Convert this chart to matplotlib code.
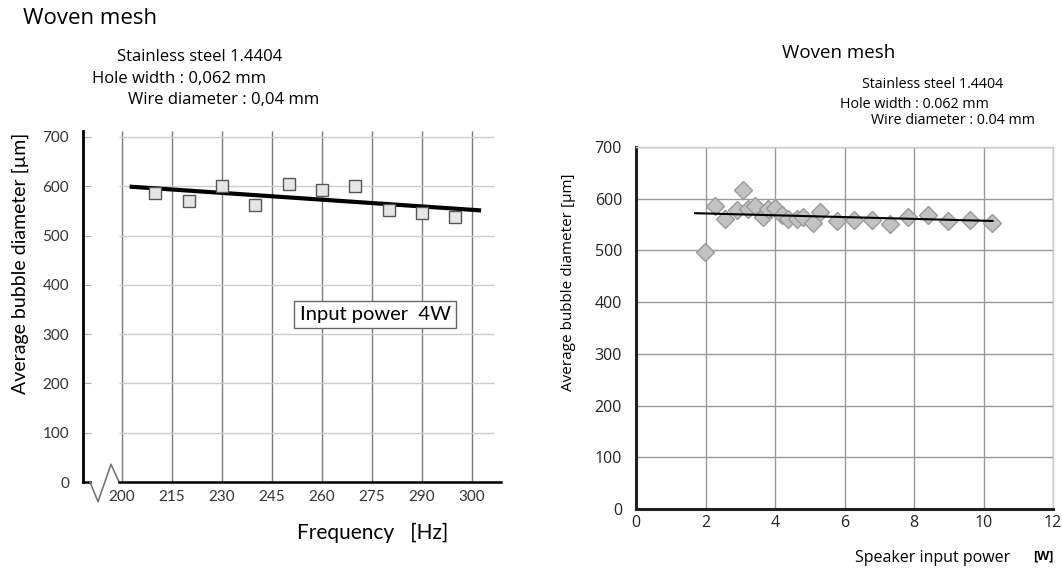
import numpy as np
import matplotlib
matplotlib.use("Agg")
import matplotlib.pyplot as plt

# left chart: frequency sweep at 4 W
freq_hz = [210, 220, 230, 240, 250, 260, 270, 280, 290, 300]
diam_freq = [587, 570, 600, 562, 604, 592, 600, 552, 546, 537]
freq_ticks = [200, 215, 230, 245, 260, 275, 290, 305]
freq_tick_labels = ['200', '215', '230', '245', '260', '275', '290', '300']
diam_ticks = [0, 100, 200, 300, 400, 500, 600, 700]

# right chart: speaker power sweep
power_w = [1.99, 2.27, 2.56, 2.90, 3.09, 3.23, 3.42, 3.65, 3.81, 4.00, 4.19, 4.38,
           4.62, 4.81, 5.08, 5.29, 5.77, 6.28, 6.78, 7.31, 7.84, 8.41, 8.99, 9.61, 10.25]
diam_power = [496, 586, 560, 578, 617, 580, 585, 564, 580, 583, 569, 560,
              560, 564, 554, 575, 556, 559, 558, 551, 565, 569, 556, 559, 554]
trend_power_x = [1.70, 10.26]
trend_power_y = [572, 557]
power_ticks = [0, 2, 4, 6, 8, 10, 12]

calib = 'Lato'
goth = 'Open Sans'

W, H = 1062, 570
fig = plt.figure(figsize=(W / 100, H / 100), dpi=100)


def px(x, y):
    return x / W, 1 - y / H


# ---------------- left chart ----------------
ax1 = fig.add_axes([83 / W, 1 - 482 / H, (501 - 83) / W, (482 - 131) / H])
ax1.set_xlim(188.3, 313.7)
ax1.set_ylim(0, 712)
for s in ['top', 'right', 'bottom']:
    ax1.spines[s].set_visible(False)
ax1.spines['left'].set_linewidth(2)
ax1.spines['left'].set_color('black')

ax1.set_xticks(freq_ticks)
ax1.set_xticklabels(freq_tick_labels, fontfamily=calib, fontsize=11, color='#333333')
ax1.set_yticks(diam_ticks)
ax1.set_yticklabels([str(v) for v in diam_ticks], fontfamily=calib, fontsize=11, color='#333333')
ax1.tick_params(axis='x', length=0, pad=6)
ax1.tick_params(axis='y', direction='in', length=6, color='#aaaaaa', pad=10)

ax1.vlines(freq_ticks, 0, 712, color='#7a7a7a', lw=1, zorder=1)
ax1.hlines(diam_ticks[1:], 199, 311.5, color='#cccccc', lw=1, zorder=1)

# broken x axis with zigzag
ax1.plot([188.3, 190.4], [0, 0], color='black', lw=1.8, clip_on=False, zorder=3)
ax1.plot([190.4, 192.8, 196.7, 199.1], [0, -40, 36, 0],
         color='#777777', lw=1.2, clip_on=False, zorder=3)
ax1.plot([199.1, 313.7], [0, 0], color='black', lw=1.8, clip_on=False, zorder=3)

coef = np.polyfit(freq_hz, diam_freq, 1)
fx = np.array([202.9, 307.1])
ax1.plot(fx, np.polyval(coef, fx), color='black', lw=3, zorder=4)
ax1.plot(freq_hz, diam_freq, 's', ms=8, mfc='#e6e6e6', mec='#555555', mew=1, zorder=5)

ax1.text(275.9, 339, 'Input power  4W', fontfamily=calib, fontsize=14.5, ha='center', va='center',
         bbox=dict(boxstyle='square,pad=0.25', fc='white', ec='#666666', lw=1), zorder=6)

fig.text(*px(20, 263), 'Average bubble diameter [µm]', rotation=90, ha='center', va='center',
         fontfamily=calib, fontsize=14)
fig.text(*px(297, 533), 'Frequency   [Hz]', ha='left', va='center', fontfamily=calib, fontsize=15)

fig.text(*px(23, 19), 'Woven mesh', ha='left', va='center', fontfamily=goth, fontsize=16)
fig.text(*px(117, 57), 'Stainless steel 1.4404', ha='left', va='center', fontfamily=goth, fontsize=12)
fig.text(*px(92, 79), 'Hole width : 0,062 mm', ha='left', va='center', fontfamily=goth, fontsize=12)
fig.text(*px(128, 100), 'Wire diameter : 0,04 mm', ha='left', va='center', fontfamily=goth, fontsize=12)

# ---------------- right chart ----------------
ax2 = fig.add_axes([636 / W, 1 - 509 / H, (1053 - 636) / W, (509 - 147) / H])
ax2.set_xlim(0, 12)
ax2.set_ylim(0, 700)
ax2.set_xticks(power_ticks)
ax2.set_xticklabels([str(v) for v in power_ticks], fontfamily=goth, fontsize=11.5, color='#222222')
ax2.set_yticks(diam_ticks)
ax2.set_yticklabels([str(v) for v in diam_ticks], fontfamily=goth, fontsize=11.5, color='#222222')
ax2.tick_params(axis='both', length=0)
ax2.tick_params(axis='x', pad=4)
ax2.tick_params(axis='y', pad=10)
ax2.grid(True, color='#999999', lw=1)
ax2.set_axisbelow(True)
for s in ['left', 'bottom']:
    ax2.spines[s].set_linewidth(2.2)
    ax2.spines[s].set_color('#222222')
for s in ['top', 'right']:
    ax2.spines[s].set_color('#cccccc')
    ax2.spines[s].set_linewidth(1)

ax2.plot(power_w, diam_power, 'D', ms=9, mfc='#c2c2c2', mec='#9a9a9a', mew=1, zorder=3)
ax2.plot(trend_power_x, trend_power_y, color='black', lw=1.5, zorder=4)

fig.text(*px(568, 282), 'Average bubble diameter [µm]', rotation=90, ha='center', va='center',
         fontfamily=goth, fontsize=11)
fig.text(*px(855, 558), 'Speaker input power', ha='left', va='center', fontfamily=goth, fontsize=11.5)
fig.text(*px(1053, 556), '[W]', ha='right', va='center', fontfamily=goth, fontsize=9, fontweight='bold')

fig.text(*px(782, 53), 'Woven mesh', ha='left', va='center', fontfamily=goth, fontsize=13.5)
fig.text(*px(862, 85), 'Stainless steel 1.4404', ha='left', va='center', fontfamily=goth, fontsize=10.3)
fig.text(*px(840, 104), 'Hole width : 0.062 mm', ha='left', va='center', fontfamily=goth, fontsize=10.3)
fig.text(*px(871, 121), 'Wire diameter : 0.04 mm', ha='left', va='center', fontfamily=goth, fontsize=10.3)

fig.savefig('out.png', dpi=100)
